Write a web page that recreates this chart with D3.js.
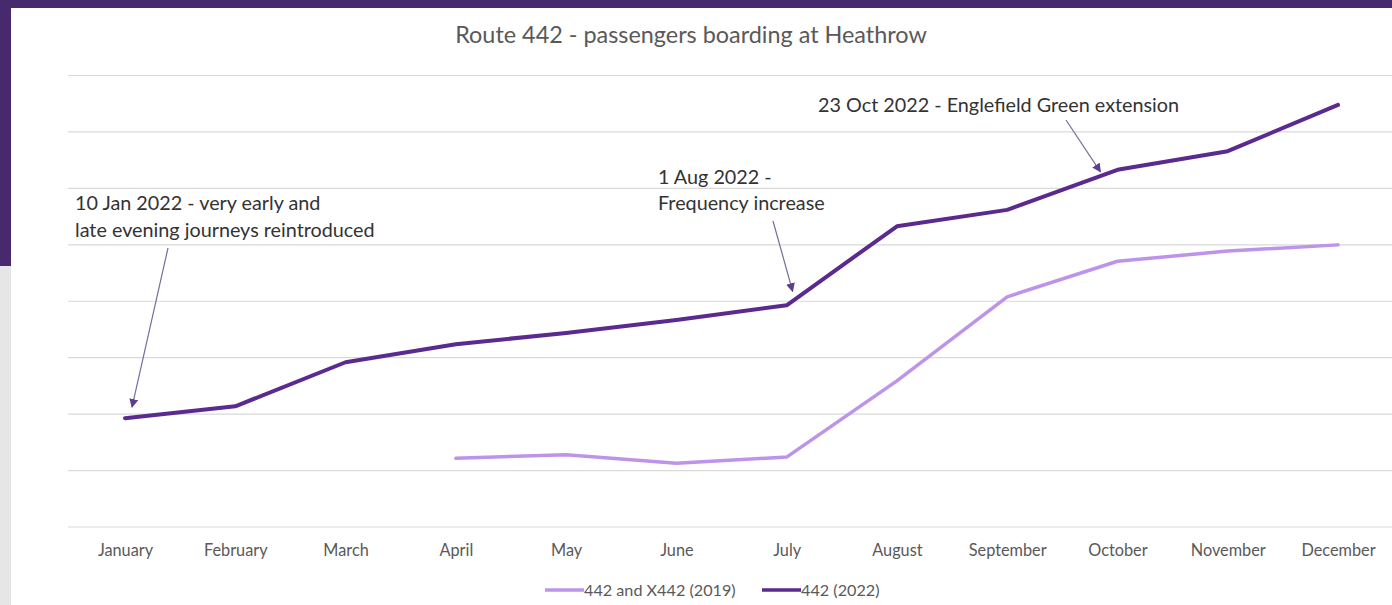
<!DOCTYPE html>
<html>
<head>
<meta charset="utf-8">
<script src="https://cdn.jsdelivr.net/npm/d3@7"></script>
<style>
  html, body { margin: 0; padding: 0; background: #ffffff; }
  svg { display: block; }
</style>
</head>
<body>
<svg id="chart" width="1392" height="605"></svg>
<script>
const months = ["January","February","March","April","May","June","July","August","September","October","November","December"];
const values2022 = [1.92, 2.13, 2.91, 3.23, 3.43, 3.66, 3.92, 5.32, 5.61, 6.32, 6.65, 7.47];
const values2019 = [null, null, null, 1.21, 1.27, 1.12, 1.23, 2.58, 4.07, 4.70, 4.88, 4.99];
const yTicks = [0, 1, 2, 3, 4, 5, 6, 7, 8];
const seriesNames = ["442 and X442 (2019)", "442 (2022)"];
const titleText = "Route 442 - passengers boarding at Heathrow";
const annotations = [
  { lines: ["10 Jan 2022 - very early and", "late evening journeys reintroduced"], month: "January", series: "2022" },
  { lines: ["1 Aug 2022 -", "Frequency increase"], month: "July", series: "2022" },
  { lines: ["23 Oct 2022 - Englefield Green extension"], month: "October", series: "2022" }
];

const svg = d3.select("#chart");
const W = 1392, H = 605;
const FONT = "Lato, 'Open Sans', sans-serif";

// background frame
svg.append("rect").attr("x", 0).attr("y", 0).attr("width", W).attr("height", H).attr("fill", "#ffffff");
svg.append("rect").attr("x", 0).attr("y", 0).attr("width", W).attr("height", 8).attr("fill", "#472a6e");
svg.append("rect").attr("x", 0).attr("y", 0).attr("width", 11).attr("height", 266).attr("fill", "#472a6e");
svg.append("rect").attr("x", 0).attr("y", 266).attr("width", 11).attr("height", H - 266).attr("fill", "#e6e6e6");

const x = d3.scalePoint().domain(months).range([125, 1338]);
const y = d3.scaleLinear().domain([0, 8]).range([526.5, 75]);

// gridlines
const yAxis = d3.axisLeft(y).tickValues(yTicks).tickSize(-(1392 - 68)).tickFormat("");
const gy = svg.append("g").attr("transform", "translate(68,0)").call(yAxis);
gy.select(".domain").remove();
gy.selectAll(".tick line").attr("stroke", "#d9d9d9").attr("stroke-width", 1.2);

// x axis labels
const xAxis = d3.axisBottom(x).tickSize(0).tickPadding(0);
const gx = svg.append("g").attr("transform", "translate(0,556)").call(xAxis);
gx.select(".domain").remove();
gx.selectAll(".tick text")
  .attr("dy", 0)
  .attr("font-family", FONT)
  .attr("font-size", 16.3)
  .attr("fill", "#595959");

// title
svg.append("text")
  .attr("x", 691).attr("y", 43)
  .attr("text-anchor", "middle")
  .attr("font-family", FONT)
  .attr("font-size", 23.4)
  .attr("fill", "#595959")
  .text(titleText);

const col2019 = "#bd94ea";
const col2022 = "#5a2a8f";

const line = d3.line()
  .defined(d => d.v != null)
  .x(d => x(d.m))
  .y(d => y(d.v));

const data2019 = months.map((m, i) => ({ m, v: values2019[i] }));
const data2022 = months.map((m, i) => ({ m, v: values2022[i] }));

svg.append("path").datum(data2019).attr("d", line)
  .attr("fill", "none").attr("stroke", col2019).attr("stroke-width", 3.5)
  .attr("stroke-linejoin", "round").attr("stroke-linecap", "round");
svg.append("path").datum(data2022).attr("d", line)
  .attr("fill", "none").attr("stroke", col2022).attr("stroke-width", 4)
  .attr("stroke-linejoin", "round").attr("stroke-linecap", "round");

// arrow marker
const defs = svg.append("defs");
defs.append("marker")
  .attr("id", "arr").attr("viewBox", "0 0 10 10")
  .attr("refX", 9).attr("refY", 5)
  .attr("markerWidth", 9).attr("markerHeight", 9)
  .attr("markerUnits", "userSpaceOnUse")
  .attr("orient", "auto")
  .append("path").attr("d", "M0,0 L10,5 L0,10 z").attr("fill", "#5e3f8e");

// annotations: text positions and arrow endpoints relative to the data point
const annLayout = [
  { tx: 75, ty: 210, lh: 27, from: [168, 248], toOff: [7, -11] },
  { tx: 658, ty: 184, lh: 26, from: [773, 221], toOff: [6, -14] },
  { tx: 818, ty: 112, lh: 26, from: [1066, 120], toOff: [-17, 2] }
];
annotations.forEach((a, i) => {
  const L = annLayout[i];
  const t = svg.append("text")
    .attr("font-family", FONT)
    .attr("font-size", 19.8)
    .attr("fill", "#333333");
  a.lines.forEach((ln, j) => {
    t.append("tspan").attr("x", L.tx).attr("y", L.ty + j * L.lh).text(ln);
  });
  const idx = months.indexOf(a.month);
  const px = x(a.month) + L.toOff[0];
  const py = y(values2022[idx]) + L.toOff[1];
  svg.append("line")
    .attr("x1", L.from[0]).attr("y1", L.from[1])
    .attr("x2", px).attr("y2", py)
    .attr("stroke", "#7b6a9c").attr("stroke-width", 1.2)
    .attr("marker-end", "url(#arr)");
});

// legend
const legend = svg.append("g");
const legItems = [
  { name: seriesNames[0], color: col2019, x0: 545 },
  { name: seriesNames[1], color: col2022, x0: 762 }
];
legItems.forEach(it => {
  legend.append("line").attr("x1", it.x0).attr("x2", it.x0 + 39)
    .attr("y1", 590).attr("y2", 590)
    .attr("stroke", it.color).attr("stroke-width", 3.5);
  legend.append("text").attr("x", it.x0 + 39).attr("y", 596)
    .attr("font-family", FONT)
    .attr("font-size", 16.2).attr("fill", "#595959")
    .text(it.name);
});
</script>
</body>
</html>
